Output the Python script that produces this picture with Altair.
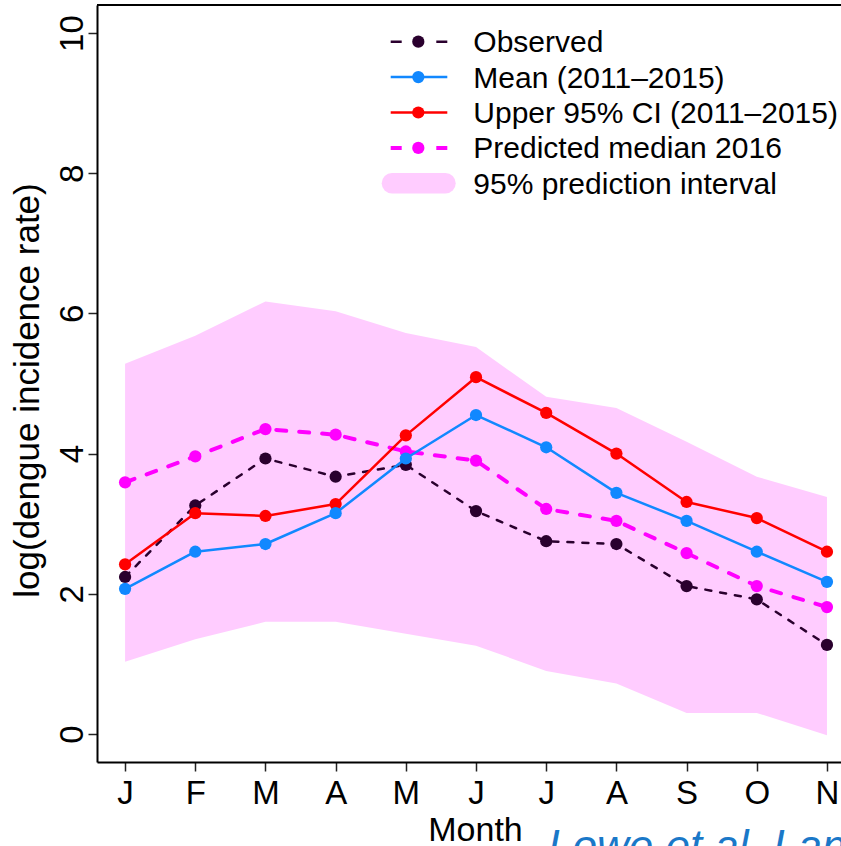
import altair as alt
import pandas as pd

FONT = "Liberation Sans"

# ---------------- data ----------------
months = ['J', 'F', 'M', 'A', 'M', 'J', 'J', 'A', 'S', 'O', 'N']
month_num = list(range(1, 12))
observed = [2.24, 3.26, 3.93, 3.67, 3.84, 3.18, 2.75, 2.71, 2.11, 1.92, 1.27]
mean_11_15 = [2.07, 2.60, 2.71, 3.15, 3.93, 4.55, 4.09, 3.44, 3.04, 2.60, 2.17]
upper_ci = [2.42, 3.15, 3.11, 3.28, 4.26, 5.09, 4.58, 4.00, 3.31, 3.08, 2.60]
pred_median = [3.59, 3.96, 4.35, 4.27, 4.03, 3.90, 3.21, 3.04, 2.58, 2.11, 1.81]
pi_lower = [1.03, 1.35, 1.60, 1.60, 1.43, 1.26, 0.90, 0.72, 0.30, 0.30, -0.02]
pi_upper = [5.28, 5.68, 6.17, 6.03, 5.72, 5.52, 4.81, 4.65, 4.17, 3.67, 3.38]
y_ticks = [0, 2, 4, 6, 8, 10]

legend_labels = ['Observed', 'Mean (2011\u20132015)', 'Upper 95% CI (2011\u20132015)',
                 'Predicted median 2016', '95% prediction interval']

OBS = '#2A002E'
BLUE = '#1188FF'
RED = '#FF0000'
MAG = '#FF00FF'
BAND = '#FFCCFF'
legend_colors = [OBS, BLUE, RED, MAG, BAND]

df = pd.DataFrame({
    'month': month_num,
    'observed': observed,
    'mean': mean_11_15,
    'upper': upper_ci,
    'pred': pred_median,
    'lo': pi_lower,
    'hi': pi_upper,
})

# ---------------- scales & axes ----------------
x_scale = alt.Scale(domain=[0.6, 11.2], nice=False, zero=False)
y_scale = alt.Scale(domain=[-0.4, 10.4], nice=False, zero=False)

label_expr = "[" + ",".join(f"'{m}'" for m in months) + "][datum.value - 1]"

x_axis = alt.Axis(
    values=month_num, labelExpr=label_expr, title='Month', grid=False,
    domainColor='black', domainWidth=2, tickColor='#222222', tickWidth=1.5, tickSize=9,
    labelFont=FONT, labelFontSize=33, labelColor='black', labelPadding=6,
    labelFlush=False, labelOverlap=False,
    titleFont=FONT, titleFontSize=34, titleFontWeight='normal', titleColor='black',
    titleX=378, titleY=78, titleBaseline='alphabetic', titleAlign='center',
)
y_axis = alt.Axis(
    values=y_ticks, title='log(dengue incidence rate)', grid=False,
    domainColor='black', domainWidth=2, tickColor='#222222', tickWidth=1.5, tickSize=9,
    labelFont=FONT, labelFontSize=33, labelColor='black', labelPadding=6,
    labelAngle=270, labelAlign='center', labelBaseline='alphabetic',
    labelFlush=False, labelOverlap=False,
    titleFont=FONT, titleFontSize=35, titleFontWeight='normal', titleColor='black',
    titleAngle=270, titleX=-59, titleY=385, titleBaseline='alphabetic', titleAlign='center',
)


def X():
    return alt.X('month:Q', scale=x_scale, axis=x_axis)


def Y(field):
    return alt.Y(f'{field}:Q', scale=y_scale, axis=y_axis)


base = alt.Chart(df)

band = base.mark_area(color=BAND, opacity=1).encode(x=X(), y=Y('lo'), y2='hi:Q')


def series(field, color, width, dash=None):
    line_kw = dict(color=color, strokeWidth=width, strokeCap='round', strokeJoin='round')
    if dash:
        line_kw['strokeDash'] = dash
    ln = base.mark_line(**line_kw).encode(x=X(), y=Y(field))
    pt = base.mark_point(filled=True, size=150, opacity=1, color=color).encode(x=X(), y=Y(field))
    return [ln, pt]


main_layers = [band]
main_layers += series('observed', OBS, 2.5, [6, 9])
main_layers += series('pred', MAG, 4, [10, 13])
main_layers += series('upper', RED, 2.5)
main_layers += series('mean', BLUE, 2.5)

frame_top = alt.Chart(pd.DataFrame({'a': [0]})).mark_rule(color='black', strokeWidth=2).encode(
    x=alt.value(0), x2=alt.value(744), y=alt.value(0))

cite = alt.Chart(pd.DataFrame({'t': ['Lowe et al. Lancet']})).mark_text(
    font=FONT, fontSize=44, fontStyle='italic', color='#1A78C8', align='left', baseline='alphabetic'
).encode(x=alt.value(451), y=alt.value(856), text='t:N')

main = alt.layer(*main_layers, frame_top, cite)

# ---------------- manual legend ----------------
leg_df = pd.DataFrame({'row': list(range(5)), 'label': legend_labels, 'color': legend_colors})
row_y = alt.Y('row:Q', scale=alt.Scale(domain=[0, 4], range=[36.7, 178.3]), axis=None)
lb = alt.Chart(leg_df)

leg_obs = lb.transform_filter(alt.datum.row == 0).mark_rule(
    strokeWidth=2.5, strokeDash=[11, 34.6], color=OBS).encode(
    x=alt.value(293.7), x2=alt.value(350.3), y=row_y)
leg_solid = lb.transform_filter((alt.datum.row == 1) | (alt.datum.row == 2)).mark_rule(
    strokeWidth=2.5).encode(
    x=alt.value(293.7), x2=alt.value(350.3), y=row_y, color=alt.Color('color:N', scale=None))
leg_mag = lb.transform_filter(alt.datum.row == 3).mark_rule(
    strokeWidth=4, strokeDash=[11, 34.6], color=MAG).encode(
    x=alt.value(293.7), x2=alt.value(350.3), y=row_y)
leg_band = lb.transform_filter(alt.datum.row == 4).mark_rule(
    strokeWidth=20.6, strokeCap='round', color=BAND).encode(
    x=alt.value(295), x2=alt.value(348.4), y=row_y)
leg_pts = lb.transform_filter(alt.datum.row < 4).mark_point(
    filled=True, size=150, opacity=1).encode(
    x=alt.value(321.3), y=row_y, color=alt.Color('color:N', scale=None))
leg_txt = lb.mark_text(font=FONT, fontSize=30, color='black', align='left',
                       baseline='alphabetic', dy=10.5).encode(
    x=alt.value(376.3), y=row_y, text='label:N')

legend = alt.layer(leg_band, leg_obs, leg_solid, leg_mag, leg_pts, leg_txt)

chart = alt.layer(main, legend).resolve_scale(y='independent').properties(
    width=744, height=757,
    autosize=alt.AutoSizeParams(type='none'),
    padding={'left': 97, 'top': 5, 'right': 0, 'bottom': 84},
    background='white',
).configure_view(stroke=None)

chart.save("out.html", embed_options={"renderer": "svg", "actions": False})
